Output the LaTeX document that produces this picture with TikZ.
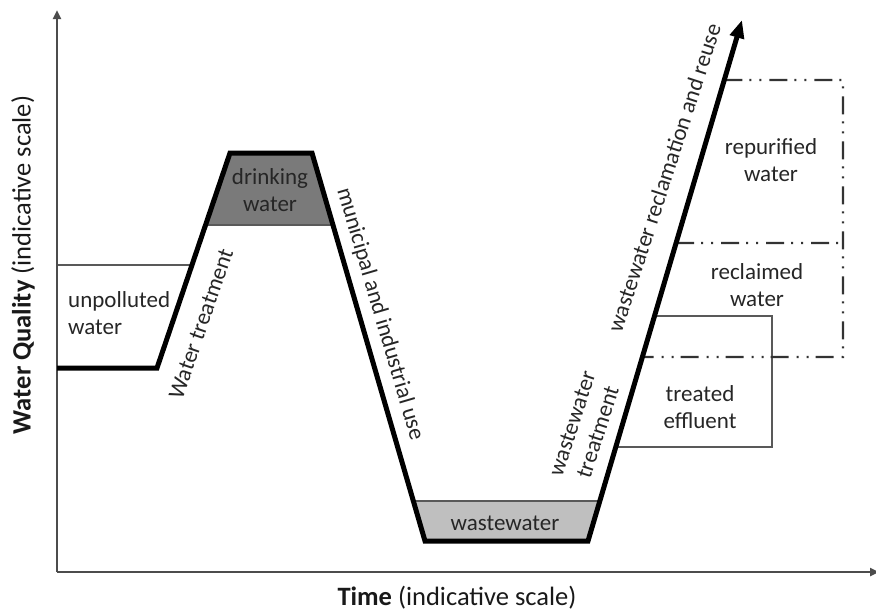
\documentclass[tikz,border=0pt]{standalone}
\usepackage{fontspec}
\setmainfont{Carlito}
\usetikzlibrary{calc,arrows.meta}
\begin{document}
\begin{tikzpicture}[x=1pt,y=-1pt,
  axis/.style={draw=black!70,line width=2.4pt},
  mainline/.style={draw=black,line width=5pt,line join=miter},
  thinline/.style={draw=black!65,line width=1.8pt},
  ddline/.style={draw=black!80,line width=2.2pt,dash pattern=on 18pt off 7pt on 2pt off 8pt on 2pt off 8pt},
  lbl/.style={font=\fontsize{23}{27}\selectfont,inner sep=0pt,align=center,text=black!85},
  axlbl/.style={font=\fontsize{26.5}{30}\selectfont,inner sep=0pt,text=black!90}]
\useasboundingbox (0,0) rectangle (876,611);
% key points of the water quality path
\coordinate (A) at (57,368);
\coordinate (B) at (157,368);
\coordinate (C) at (230,153);
\coordinate (D) at (312,153);
\coordinate (E) at (425,541);
\coordinate (F) at (588,541);
\coordinate (G) at (742,20);
% derived points on slopes
\coordinate (dwL) at ($(B)!0.665!(C)$);
\coordinate (dwR) at ($(D)!0.1856!(E)$);
\coordinate (wwL) at ($(D)!0.897!(E)$);
\coordinate (wwR) at ($(F)!0.0768!(G)$);
\coordinate (upR) at ($(B)!0.479!(C)$);
\coordinate (upL) at (57,265);
\coordinate (teT) at ($(F)!0.432!(G)$);
\coordinate (teB) at ($(F)!0.1804!(G)$);
\coordinate (teTR) at (772,316);
\coordinate (teBR) at (772,447);
\coordinate (rpT) at ($(F)!0.885!(G)$);
\coordinate (rpM) at ($(F)!0.572!(G)$);
\coordinate (rpB) at ($(F)!0.353!(G)$);
\coordinate (rTR) at (843,80);
\coordinate (rMR) at (843,243);
\coordinate (rBR) at (843,357);
\coordinate (O) at (57,572);
\coordinate (Ytip) at (57,10);
\coordinate (Xtip) at (879,572);
% fills
\fill[black!52] (C) -- (D) -- (dwR) -- (dwL) -- cycle;
\fill[black!25] (wwL) -- (wwR) -- (F) -- (E) -- cycle;
\draw[thinline] (dwL) -- (dwR);
\draw[thinline] (wwL) -- (wwR);
% unpolluted water
\draw[thinline] (upL) -- (upR);
% treated effluent box
\draw[thinline] (teT) -- (teTR) -- (teBR) -- (teB);
% dash-dot boxes
\draw[ddline] (rpT) -- (rTR) -- (rBR) -- (rpB);
\draw[ddline] (rpM) -- (rMR);
% axes
\draw[axis,-{Triangle[length=9pt,width=8pt]}] (O) -- (Ytip);
\draw[axis,-{Triangle[length=9pt,width=8pt]}] (O) -- (Xtip);
% main path
\draw[mainline,-{Triangle[length=18pt,width=14pt]}] (A) -- (B) -- (C) -- (D) -- (E) -- (F) -- (G);
% labels
\node[lbl,align=left,anchor=west] (unp) at (68,313) {unpolluted\\water};
\node[lbl] (dw) at (270,190) {drinking\\water};
\node[lbl] (ww) at (505,523) {wastewater};
\node[lbl] (rep) at (771,160) {repurified\\water};
\node[lbl] (rec) at (757,285) {reclaimed\\water};
\node[lbl] (tre) at (700,407) {treated\\effluent};
\node[lbl,rotate=71] (wt) at (201,324) {Water treatment};
\node[lbl,rotate=-73.6] (mi) at (380,314) {municipal and industrial use};
\node[lbl,rotate=72] (wwt) at (585,428) {wastewater\\treatment};
\node[lbl,rotate=72] (wrr) at (664,178) {wastewater reclamation and reuse};
\node[axlbl,rotate=90] (yl) at (23,265) {\textbf{Water Quality} (indicative scale)};
\node[axlbl] (xl) at (457,598) {\textbf{Time} (indicative scale)};
\end{tikzpicture}
\end{document}
